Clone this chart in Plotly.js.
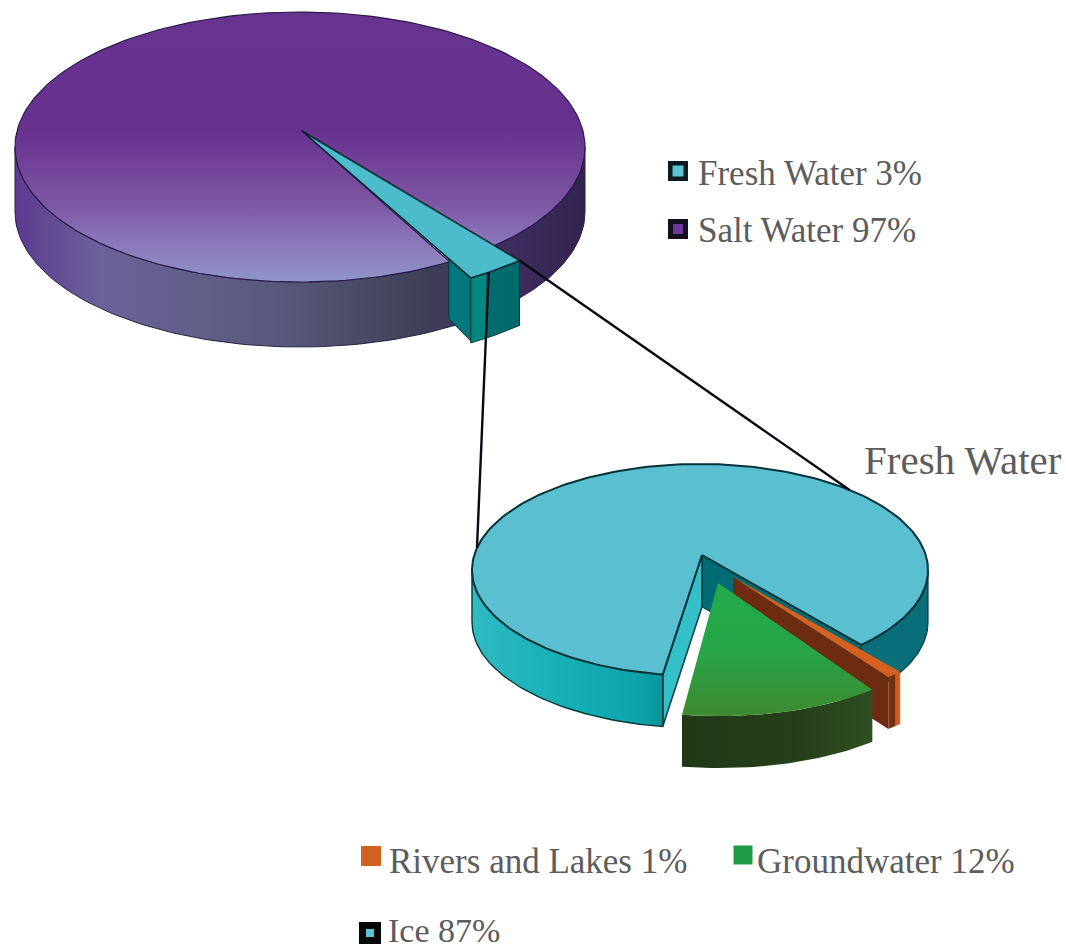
<!DOCTYPE html>
<html>
<head>
<meta charset="utf-8">
<script src="https://cdn.plot.ly/plotly-3.0.1.min.js"></script>
<style>html,body{margin:0;padding:0;background:#fff}#chart{width:1066px;height:949px}</style>
</head>
<body>
<div id="chart"></div>
<script>
// ---- data ----
var mainNames = ['Fresh Water', 'Salt Water'];
var mainValues = [3, 97];
var freshNames = ['Rivers and Lakes', 'Groundwater', 'Ice'];
var freshValues = [1, 12, 87];
var freshTitle = 'Fresh Water';

// ---- projection of a tilted disc onto the page ----
var big = {cx: 300, cy: 147, rx: 285, ry: 135, ax: 302, ay: 131, depth: 65, b: 0};
var small = {cx: 700, cy: 570, rx: 228, ry: 106, ax: 702, ay: 555, depth: 52, b: 0.081};
var D = Math.PI / 180;
// true pie angle -> angle on the ellipse (perspective widens the front of the disc)
function toEllipse(p, th) {
  var b = p.b, c = Math.cos(th * D), s = Math.sin(th * D);
  var nr = c, ni = s - b, dr = 1 - b * s, di = b * c;
  var m = dr * dr + di * di;
  return Math.atan2((ni * dr - nr * di) / m, (nr * dr + ni * di) / m) / D;
}
function toTrue(p, t) {
  var b = p.b, c = Math.cos(t * D), s = Math.sin(t * D);
  var nr = c, ni = s + b, dr = 1 + b * s, di = -b * c;
  var m = dr * dr + di * di;
  return Math.atan2((ni * dr - nr * di) / m, (nr * dr + ni * di) / m) / D;
}
function unwrap(t, after) { while (t < after) t += 360; return t; }
function pt(p, t, o) {
  o = o || {};
  var k = o.scale || 1;
  return [p.cx + k * p.rx * Math.cos(t * D) + (o.dx || 0), p.cy + k * p.ry * Math.sin(t * D) + (o.dy || 0)];
}
function arc(p, t1, t2, o) {
  var out = [], n = Math.max(2, Math.ceil(Math.abs(t2 - t1) / 1.5));
  for (var i = 0; i <= n; i++) out.push(pt(p, t1 + (t2 - t1) * i / n, o));
  return out;
}
function shift(pts, dy) { return pts.map(function (q) { return [q[0], q[1] + dy]; }); }
function wall(p, t1, t2, o) {
  var a = arc(p, t1, t2, o);
  return a.concat(shift(a, p.depth).reverse());
}
var traces = [];
function poly(pts, style) {
  var xs = pts.map(function (q) { return q[0]; }), ys = pts.map(function (q) { return q[1]; });
  xs.push(xs[0]); ys.push(ys[0]);
  var tr = {type: 'scatter', mode: 'lines', x: xs, y: ys, fill: 'toself', hoverinfo: 'skip', showlegend: false,
    line: {color: style.line || 'rgba(0,0,0,0)', width: style.width === undefined ? 1 : style.width}};
  if (style.grad) tr.fillgradient = {type: style.grad[0], colorscale: style.grad[1]};
  else tr.fillcolor = style.fill;
  traces.push(tr);
}
function leader(a, b) {
  traces.push({type: 'scatter', mode: 'lines', x: [a[0], b[0]], y: [a[1], b[1]], hoverinfo: 'skip', showlegend: false,
    line: {color: '#0a0a12', width: 2.4}});
}

// ---- big pie ----
var freshSpan = mainValues[0] / 100 * 360;
var bigT1 = 47.5, bigTh1 = toTrue(big, bigT1);
var bigT2 = unwrap(toEllipse(big, bigTh1 + freshSpan), bigT1);
poly(wall(big, 0, 180), {grad: ['horizontal', [[0, '#5c3a92'], [0.15, '#6b6398'], [0.45, '#5a5a7c'], [0.72, '#3f3f58'], [0.88, '#3d2d5e'], [1, '#33234f']]], line: '#2a1f40', width: 1});
var apexB = [big.ax, big.ay];
poly([apexB].concat(arc(big, bigT2, bigT1 + 360)), {grad: ['vertical', [[0, '#9095c8'], [0.155, '#8a75b9'], [0.3, '#7c55a3'], [0.56, '#67328f'], [1, '#683490']]], line: '#2b1a4a', width: 1.2});
// exploded fresh-water wedge
var wOpt = {scale: 1.14};
var wB = pt(big, bigT2, wOpt);
var f = 0.87, wC = [apexB[0] + (wB[0] - apexB[0]) * f, apexB[1] + (wB[1] - apexB[1]) * f];
poly([wC, wB, [wB[0], wB[1] + big.depth - 2], [wC[0], wC[1] + big.depth - 5]], {fill: '#00777b', line: '#06393c', width: 1});
poly(wall(big, bigT2, bigT1, wOpt), {grad: ['horizontal', [[0, '#00857f'], [0.3, '#008a82'], [0.31, '#006c6e'], [1, '#006a6c']]], line: '#06393c', width: 1});
poly([apexB].concat(arc(big, bigT1, bigT2, wOpt)), {fill: '#4cbccb', line: '#0b2a30', width: 1.6});

// ---- small pie ----
var iceEndT = 45;
var th0 = toTrue(small, iceEndT);
var riversEnd = th0 + freshValues[0] / 100 * 360;
var groundEnd = riversEnd + freshValues[1] / 100 * 360;
var riversT = unwrap(toEllipse(small, riversEnd), iceEndT);
var groundT = unwrap(toEllipse(small, groundEnd), riversT);
var apexS = [small.ax, small.ay];
var rimEnd = pt(small, iceEndT), rimStart = pt(small, groundT);
// inner cut faces of the ice slice
poly([apexS, rimEnd, [rimEnd[0], rimEnd[1] + small.depth], [apexS[0], apexS[1] + small.depth]], {fill: '#006b73', line: '#06393c', width: 1});
poly([apexS, rimStart, [rimStart[0], rimStart[1] + small.depth], [apexS[0], apexS[1] + small.depth]], {fill: '#35bfc9', line: '#06393c', width: 1.5});
// outer walls of the ice slice
poly(wall(small, groundT, 180), {grad: ['horizontal', [[0, '#2fbac2'], [0.5, '#14b0b4'], [0.85, '#0ea6aa'], [1, '#08949a']]], line: '#06393c', width: 1.4});
poly(wall(small, 0, iceEndT), {fill: '#0a6e78', line: '#06393c', width: 1.2});
poly([apexS].concat(arc(small, groundT, iceEndT + 360)), {fill: '#5abfcf', line: '#06323a', width: 2});

// rivers and lakes
var rOpt = {dx: 39, dy: 27};
var rA = [733, 577];
var rP = pt(small, riversT, rOpt);
poly([rA, rP, [rP[0], rP[1] + small.depth], [rA[0], rA[1] + small.depth]], {fill: '#6d2c12'});
poly(wall(small, riversT, iceEndT, rOpt), {grad: ['horizontal', [[0, '#7a3410'], [0.55, '#6d2c12'], [0.6, '#c9571b'], [1, '#d9641f']]]});
poly([rA].concat(arc(small, iceEndT, riversT, rOpt)), {fill: '#d6601f'});

// groundwater
var gOpt = {dx: 20, dy: 38, scale: 1.02};
var gA = [718, 583];
poly(wall(small, riversT, groundT, gOpt), {grad: ['horizontal', [[0, '#1f3a17'], [0.6, '#263f1a'], [1, '#2f4f22']]]});
poly([gA].concat(arc(small, riversT, groundT, gOpt)), {grad: ['vertical', [[0, '#3f8a30'], [0.5, '#26a547'], [1, '#22aa4c']]]});

// ---- connector lines ----
leader(pt(big, bigT1, wOpt), pt(small, -49));
leader(pt(big, 54.5, wOpt), pt(small, 192));

// ---- legend swatches ----
function swatch(x, y, size, fill, border, bw) {
  traces.push({type: 'scatter', mode: 'markers', x: [x], y: [y], hoverinfo: 'skip', showlegend: false,
    marker: {symbol: 'square', size: size, color: fill, line: {color: border, width: bw}}});
}
swatch(678, 171, 15.5, '#5bc3d3', '#0a1c20', 4.5);
swatch(678, 229, 15, '#6d3a9c', '#14101c', 5);
swatch(371, 856, 20, '#d2601f', '#d2601f', 0);
swatch(743, 855, 19, '#1f9a45', '#1f9a45', 0);
swatch(370, 933, 15, '#5bc3d3', '#050708', 7);

function label(x, y, text, size) {
  return {x: x, y: y, xref: 'x', yref: 'y', xanchor: 'left', yanchor: 'middle', text: text, showarrow: false,
    font: {family: '"Liberation Serif", serif', size: size, color: '#5c5c5c'}};
}
var annotations = [
  label(696, 173, mainNames[0] + ' ' + mainValues[0] + '%', 35),
  label(696, 230, mainNames[1] + ' ' + mainValues[1] + '%', 35),
  label(862, 460, freshTitle, 41),
  label(387, 861, freshNames[0] + ' ' + freshValues[0] + '%', 35),
  label(755, 861, freshNames[1] + ' ' + freshValues[1] + '%', 35),
  label(386, 930, freshNames[2] + ' ' + freshValues[2] + '%', 34)
];

Plotly.newPlot('chart', traces, {
  width: 1066, height: 949,
  margin: {l: 0, r: 0, t: 0, b: 0},
  paper_bgcolor: '#ffffff', plot_bgcolor: '#ffffff',
  showlegend: false,
  xaxis: {range: [0, 1066], visible: false, fixedrange: true},
  yaxis: {range: [949, 0], visible: false, fixedrange: true},
  annotations: annotations
}, {staticPlot: true, displayModeBar: false});
</script>
</body>
</html>
